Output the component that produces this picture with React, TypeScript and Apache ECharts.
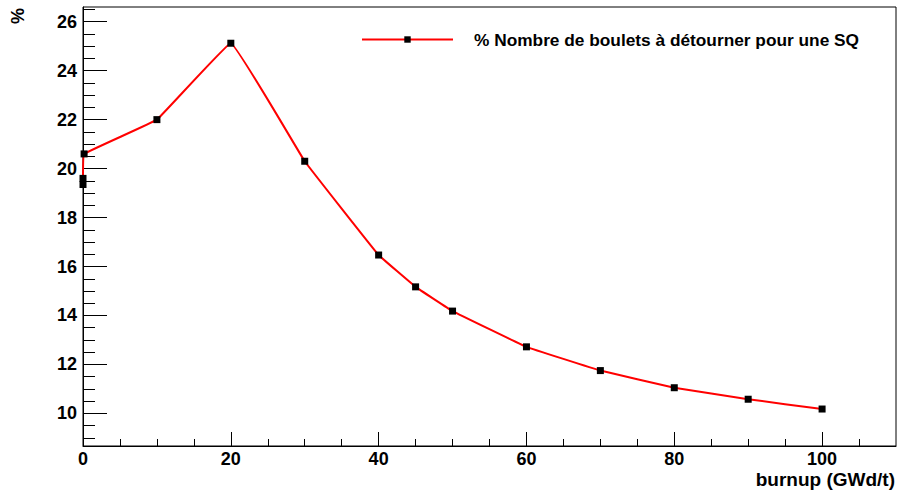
import React, { useEffect, useRef } from "react";
import * as echarts from "echarts";

const burnup = [0, 0, 0.15, 10, 20, 30, 40, 45, 50, 60, 70, 80, 90, 100];
const percent = [19.35, 19.6, 20.6, 22.0, 25.12, 20.3, 16.47, 15.17, 14.18, 12.72, 11.75, 11.05, 10.58, 10.18];
const seriesName = "% Nombre de boulets à détourner pour une SQ";
const xMajor = [0, 20, 40, 60, 80, 100];
const xMinor = [5, 10, 15, 25, 30, 35, 45, 50, 55, 65, 70, 75, 85, 90, 95, 105];
const yMajor = [10, 12, 14, 16, 18, 20, 22, 24, 26];
const yMinor = [9, 9.5, 10.5, 11, 11.5, 12.5, 13, 13.5, 14.5, 15, 15.5, 16.5, 17, 17.5, 18.5, 19, 19.5, 20.5, 21, 21.5, 22.5, 23, 23.5, 24.5, 25, 25.5, 26.5];
const xTitle = "burnup (GWd/t)";
const yTitle = "%";

const FONT = "Liberation Sans";

export default function App() {
  const ref = useRef<HTMLDivElement>(null);
  useEffect(() => {
    if (!ref.current) return;
    const chart = echarts.init(ref.current, undefined, { renderer: "svg" });
    const X_MIN = 0, X_MAX = 110, Y_MIN = 8.67, Y_MAX = 26.6;
    const axisLine = { show: true, lineStyle: { color: "#000", width: 1 } };
    const labelStyle = { color: "#000", fontFamily: FONT, fontWeight: "bold" as const, fontSize: 18 };
    chart.setOption({
      animation: false,
      backgroundColor: "#fff",
      grid: { left: 83, top: 7, right: 3, bottom: 46, show: true, borderColor: "#000", borderWidth: 1, backgroundColor: "transparent" },
      legend: {
        left: 356,
        top: 26,
        itemWidth: 91,
        itemHeight: 8,
        data: [seriesName],
        textStyle: { color: "#000", fontFamily: FONT, fontWeight: "bold", fontSize: 17.3, padding: [0, 0, 0, 16] },
      },
      xAxis: [
        {
          type: "value", min: X_MIN, max: X_MAX, position: "bottom",
          axisLine,
          splitLine: { show: false },
          axisTick: { show: true, inside: true, length: 14, customValues: xMajor, lineStyle: { color: "#000" } },
          axisLabel: { ...labelStyle, margin: 4, customValues: xMajor },
        },
        {
          type: "value", min: X_MIN, max: X_MAX, position: "bottom",
          axisLine: { show: false },
          splitLine: { show: false },
          axisTick: { show: true, inside: true, length: 7, customValues: xMinor, lineStyle: { color: "#000" } },
          axisLabel: { show: false },
        },
      ],
      yAxis: [
        {
          type: "value", min: Y_MIN, max: Y_MAX, position: "left",
          axisLine,
          splitLine: { show: false },
          axisTick: { show: true, inside: true, length: 24, customValues: yMajor, lineStyle: { color: "#000" } },
          axisLabel: { ...labelStyle, margin: 6, customValues: yMajor },
        },
        {
          type: "value", min: Y_MIN, max: Y_MAX, position: "left",
          axisLine: { show: false },
          splitLine: { show: false },
          axisTick: { show: true, inside: true, length: 12, customValues: yMinor, lineStyle: { color: "#000" } },
          axisLabel: { show: false },
        },
      ],
      graphic: [
        {
          type: "text", x: 895, y: 479,
          style: { text: xTitle, fill: "#000", font: `bold 19px "${FONT}"`, textAlign: "right", textVerticalAlign: "middle" },
        },
        {
          type: "text", x: 18, y: 16, rotation: Math.PI / 2,
          style: { text: yTitle, fill: "#000", font: `bold 18px "${FONT}"`, textAlign: "center", textVerticalAlign: "middle" },
        },
      ],
      series: [
        {
          name: seriesName,
          type: "line",
          xAxisIndex: 0,
          yAxisIndex: 0,
          data: burnup.map((b, i) => [b, percent[i]]),
          smooth: 0.06,
          symbol: "rect",
          symbolSize: 7,
          showAllSymbol: true,
          lineStyle: { color: "#ff0000", width: 2 },
          itemStyle: { color: "#000" },
        },
      ],
    });
    return () => chart.dispose();
  }, []);
  return <div ref={ref} style={{ position: "fixed", left: 0, top: 0, width: 899, height: 492 }} />;
}
